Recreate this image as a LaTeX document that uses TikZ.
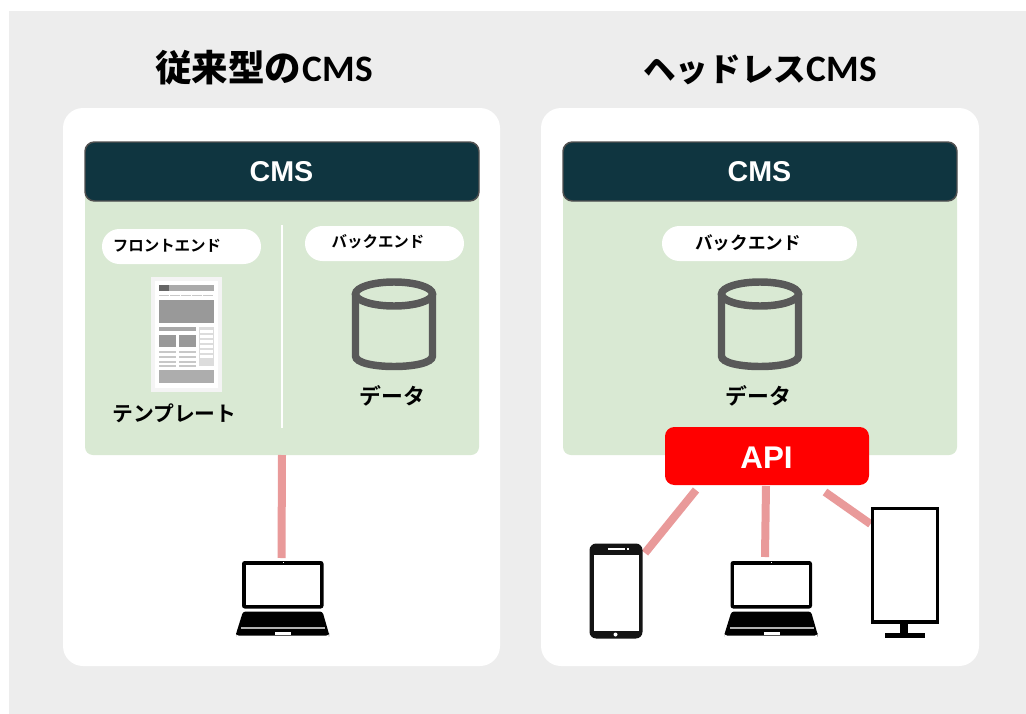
\documentclass[tikz,border=0pt]{standalone}
\usepackage{fontspec}
\setmainfont{Liberation Sans}
\newfontfamily\cjk{Noto Sans CJK JP}
\newfontfamily\cjkb{Noto Sans CJK JP Bold}
\newfontfamily\latb{Carlito}[BoldFont=Carlito Bold]
\definecolor{bgg}{HTML}{EDEDED}
\definecolor{dark}{HTML}{0F3540}
\definecolor{edgeg}{HTML}{505050}
\definecolor{mint}{HTML}{D9E9D3}
\definecolor{pinkc}{HTML}{E99A9A}
\definecolor{cyl}{HTML}{595959}
\definecolor{sheetg}{HTML}{F4F4F4}
\definecolor{blockg}{HTML}{999999}
\definecolor{lineg}{HTML}{C8C8C8}
\tikzset{x=0.75pt,y=-0.75pt,
  panel/.style={fill=white,rounded corners=15pt},
  cmsbar/.style={fill=dark,draw=edgeg,line width=1.1pt,rounded corners=7pt},
  greenbox/.style={fill=mint,rounded corners=6pt},
  pillbox/.style={fill=white,rounded corners=13pt},
  link/.style={draw=pinkc,line width=6pt},
  cap label/.style={text=white,font=\bfseries\fontsize{21.5pt}{23pt}\selectfont,inner sep=0pt},
  title label/.style={font=\bfseries\fontsize{28pt}{30pt}\selectfont,inner sep=0pt},
  pill label/.style={font=\cjkb\fontsize{11.6pt}{13pt}\selectfont,inner sep=0pt},
  wide pill label/.style={font=\cjkb\fontsize{13.2pt}{15pt}\selectfont,inner sep=0pt},
  item label/.style={font=\cjkb\fontsize{16.4pt}{18pt}\selectfont,inner sep=0pt},
  tpl label/.style={font=\cjkb\fontsize{15.6pt}{17pt}\selectfont,inner sep=0pt},
}
\newcommand{\cylinder}[2]{%
  \begin{scope}[shift={(#1,#2)}]
    \draw[cyl,line width=5.6pt,fill=none] (-38.5,-68) -- (-38.5,-6)
      .. controls (-38.5,8) and (38.5,8) .. (38.5,-6) -- (38.5,-68);
    \draw[cyl,line width=5.6pt] (0,-68) ellipse [x radius=38.5,y radius=12];
  \end{scope}}
\newcommand{\laptop}[2]{%
  \begin{scope}[shift={(#1,#2)}]
    \fill[black,rounded corners=2pt] (6,0) rectangle (87.5,47.5);
    \fill[white] (9.5,4) rectangle (84,43.5);
    \fill[black,rounded corners=2pt] (7,50.5) -- (86.5,50.5) -- (93,73) -- (93,74.5) -- (0,74.5) -- (0,73) -- cycle;
    \fill[gray!60] (5,66) rectangle (89,68);
    \fill[white] (39,71) rectangle (55,73.5);
    \fill[white] (46.5,0.8) rectangle (47.7,2.4);
  \end{scope}}
\begin{document}
\begin{tikzpicture}
\useasboundingbox (0,0) rectangle (1026,714);
\fill[white] (0,0) rectangle (1026,714);
\fill[bgg] (9,11) rectangle (1026,714);
% panels
\fill[panel] (63,108) rectangle (500,666);
\fill[panel] (541,108) rectangle (979,666);
% titles
\node[title label,anchor=base] (titleA) at (264,81) {\cjkb\fontsize{27.4pt}{30pt}\selectfont 従来型の\hspace{1pt}\latb\bfseries\fontsize{28pt}{30pt}\selectfont CMS};
\node[title label,anchor=base] (titleB) at (760,81) {\cjkb\fontsize{24.5pt}{30pt}\selectfont ヘッドレス\latb\bfseries\fontsize{28pt}{30pt}\selectfont CMS};
% green boxes
\fill[greenbox] (85,190) rectangle (479,455);
\fill[greenbox] (563,190) rectangle (957,455);
% bars
\draw[cmsbar] (85,142) rectangle (479,201);
\node[cap label] (cmsA) at (281.5,172) {CMS};
\draw[cmsbar] (563,142) rectangle (957,201);
\node[cap label] (cmsB) at (759.5,172) {CMS};
% divider
\draw[white,line width=1.3pt] (282,225) -- (282,428);
% pills
\fill[pillbox] (102,229) rectangle (261,264);
\node[pill label] (pillF) at (167,246) {フロントエンド};
\fill[pillbox] (305,226) rectangle (464,261);
\node[pill label] (pillB) at (378,242) {バックエンド};
\fill[pillbox] (662,226) rectangle (857,261);
\node[wide pill label] (pillC) at (748,243) {バックエンド};
% template sheet
\fill[sheetg] (151,277) rectangle (222,392);
\fill[white] (155,281) rectangle (218,388);
\fill[lineg!85!black] (159,285) rectangle (214,291);
\fill[black!60] (159,285) rectangle (169,291);
\foreach \a in {159,170,181,192,203} \fill[lineg] (\a,294.5) rectangle (\a+10,296);
\fill[blockg] (159,300) rectangle (214,323);
\fill[blockg!85] (159,327) rectangle (196,331);
\fill[blockg] (159,335) rectangle (176,347);
\fill[blockg] (179,335) rectangle (196,347);
\foreach \b in {351,356,361,365} {\fill[lineg] (159,\b) rectangle (176,\b+1.5);\fill[lineg] (179,\b) rectangle (196,\b+1.5);}
\fill[sheetg!90!black] (199,327) rectangle (214,366);
\foreach \b in {330,335,340,345,350,355} \fill[white] (200,\b) rectangle (213,\b+2.5);
\fill[blockg!80] (159,370) rectangle (214,383);
\node[tpl label] (tpl) at (174.5,413) {テンプレート};
% cylinders
\cylinder{394}{362}
\node[item label] (dataA) at (392.5,396) {データ};
\cylinder{760}{362}
\node[item label] (dataB) at (758.5,396) {データ};
% API
\node[fill=red,rounded corners=7pt,minimum width=153pt,minimum height=43.5pt,inner sep=0pt] (api) at (767,456) {};
\node[text=white,inner sep=0pt,font=\bfseries\fontsize{23.5pt}{25pt}\selectfont] (apit) at (766.5,457.5) {API};
% connector ends
\coordinate (cA) at (282,455);
\coordinate (lapA) at (281.5,558);
\coordinate (a1) at (696,490);
\coordinate (phone) at (645,553);
\coordinate (a2) at (766,486);
\coordinate (lapB) at (765,557);
\coordinate (a3) at (825,492);
\coordinate (mon) at (870.5,524);
\draw[link] (cA) -- (lapA);
\draw[link] (a1) -- (phone);
\draw[link] (a2) -- (lapB);
\draw[link] (a3) -- (mon);
% devices
\laptop{236}{561}
\laptop{724.5}{561}
% phone
\fill[black!92,rounded corners=5pt] (589.5,543.5) rectangle (642.5,638.5);
\fill[white] (594,555) rectangle (639,631);
\fill[white] (608,547.5) rectangle (625,550);
\fill[white] (626.5,547.5) rectangle (628.5,550);
\fill[white] (615.5,634.5) circle (2);
% monitor
\draw[black,line width=2.4pt] (872.5,508.5) rectangle (937.5,622);
\fill[black] (900,623) rectangle (908,633);
\fill[black] (885,633) rectangle (925,638);
\end{tikzpicture}
\end{document}
